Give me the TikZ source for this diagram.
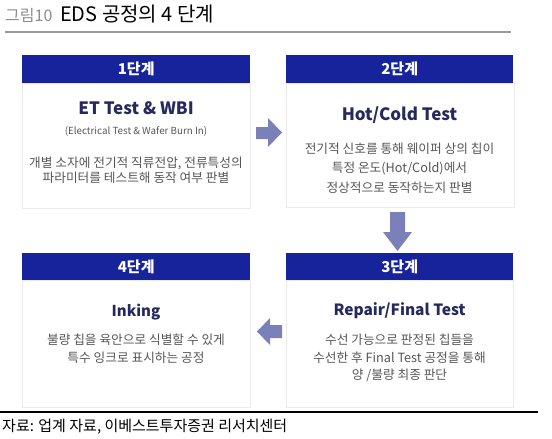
\documentclass[tikz,border=0pt]{standalone}
\usepackage{fontspec}
\setmainfont{Noto Sans CJK KR}
\usetikzlibrary{positioning}

\definecolor{hdblue}{HTML}{17239A}
\definecolor{ttnavy}{HTML}{25295E}
\definecolor{txgray}{HTML}{575757}
\definecolor{arblue}{HTML}{7C80B8}

\tikzset{
  stephead/.style={fill=hdblue, text=white, font=\bfseries\fontsize{15}{15}\selectfont,
    minimum width=228pt, minimum height=28pt, anchor=north west, inner sep=0pt},
  stepbody/.style={fill=white, draw=black!8, minimum width=228pt, anchor=north west, inner sep=0pt},
  steptitle/.style={text=ttnavy, font=\bfseries\fontsize{17}{17}\selectfont, inner sep=0pt},
  stepnote/.style={text=txgray, align=center, inner sep=0pt},
  blockarrow/.style={fill=arblue, draw=none}
}

\begin{document}
\begin{tikzpicture}[x=1pt, y=-1pt]
  \useasboundingbox (0,0) rectangle (552,439);
  % title
  \node[anchor=base west, text=black!45, font=\fontsize{16}{16}\selectfont, inner sep=0pt] (fig) at (5,21) {그림10};
  \node[anchor=base west, font=\fontsize{20}{20}\selectfont, inner sep=0pt] (title) at (60,21) {EDS 공정의 4 단계};
  \draw[black!40, line width=2pt] (5,32) -- (511,32);

  % step 1
  \node[stepbody, minimum height=125pt] (body1) at (22,83) {};
  \node[stephead] (head1) at (22,55) {1단계};
  \node[steptitle] (title1) at (136,108) {ET Test \& WBI};
  \node[stepnote, font=\fontsize{9.8}{10}\selectfont] (sub1) at (136,131) {(Electrical Test \& Wafer Burn In)};
  \node[stepnote, font=\fontsize{12.7}{15}\selectfont] (note1) at (136,170) {개별 소자에 전기적 직류전압, 전류특성의\\파라미터를 테스트해 동작 여부 판별};

  % step 2
  \node[stepbody, minimum height=124pt] (body2) at (286,83) {};
  \node[stephead, minimum width=227pt] (head2) at (286,55) {2단계};
  \node[steptitle] (title2) at (399.5,115) {Hot/Cold Test};
  \node[stepnote, font=\fontsize{12.7}{19.5}\selectfont] (note2) at (399.5,168) {전기적 신호를 통해 웨이퍼 상의 칩이\\특정 온도(Hot/Cold)에서\\정상적으로 동작하는지 판별};

  % step 3
  \node[stepbody, minimum height=127pt, minimum width=227pt] (body3) at (286,280) {};
  \node[stephead, minimum width=227pt, minimum height=27pt] (head3) at (286,253) {3단계};
  \node[steptitle, font=\bfseries\fontsize{15.5}{16}\selectfont] (title3) at (399.5,311) {Repair/Final Test};
  \node[stepnote, font=\fontsize{12.7}{17.5}\selectfont] (note3) at (399.5,358) {수선 가능으로 판정된 칩들을\\수선한 후 Final Test 공정을 통해\\양 /불량 최종 판단};

  % step 4
  \node[stepbody, minimum height=127pt] (body4) at (22,280) {};
  \node[stephead, minimum height=27pt] (head4) at (22,253) {4단계};
  \node[steptitle, font=\bfseries\fontsize{15}{15}\selectfont] (title4) at (136,312) {Inking};
  \node[stepnote, font=\fontsize{12.7}{18}\selectfont] (note4) at (136,348.5) {불량 칩을 육안으로 식별할 수 있게\\특수 잉크로 표시하는 공정};

  % arrows
  \fill[blockarrow] (256,127) -- (268,127) -- (268,118) -- (282,132.5) -- (268,147) -- (268,139) -- (256,139) -- cycle;
  \fill[blockarrow] (390,212) -- (405,212) -- (405,232) -- (412,232) -- (397.5,251) -- (383,232) -- (390,232) -- cycle;
  \fill[blockarrow] (282,325) -- (270,325) -- (270,318) -- (257,331.5) -- (270,345) -- (270,338) -- (282,338) -- cycle;

  % source
  \draw[black, line width=1.2pt] (0,412) -- (538,412);
  \node[anchor=west, font=\fontsize{15}{15}\selectfont, inner sep=0pt] (src) at (2,427) {자료: 업계 자료, 이베스트투자증권 리서치센터};
\end{tikzpicture}
\end{document}
